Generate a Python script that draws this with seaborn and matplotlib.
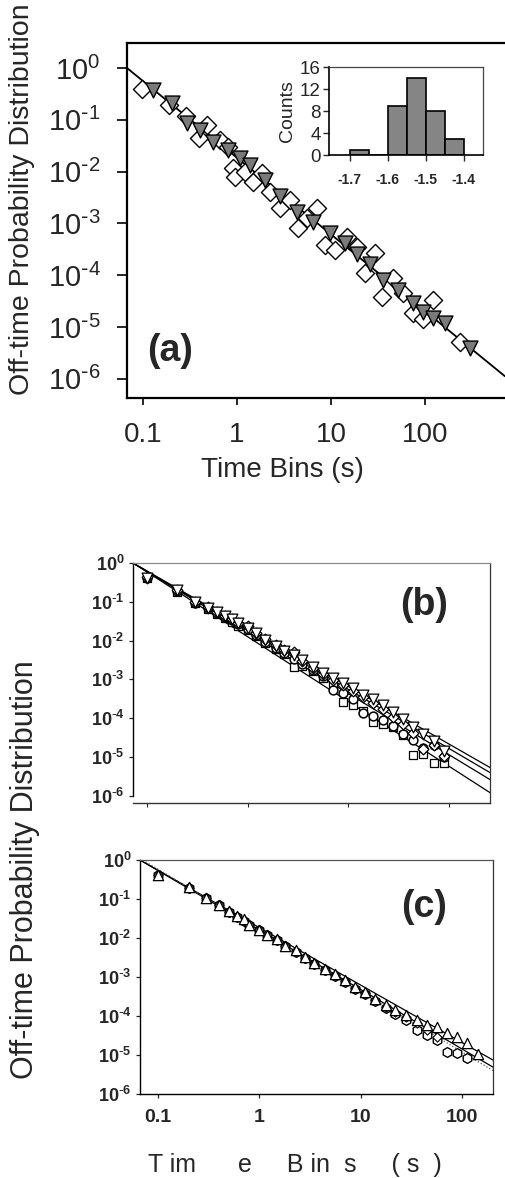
import numpy as np
import matplotlib
matplotlib.use("Agg")
import matplotlib.pyplot as plt
from matplotlib.ticker import NullLocator
import seaborn as sns

sns.set_style("ticks")
plt.rcParams['font.family'] = ['Liberation Sans', 'DejaVu Sans']
plt.rcParams['mathtext.default'] = 'regular'

# ---------------- data ----------------
# panel (a): open diamonds
a_dia_x = [0.098, 0.19, 0.29, 0.48, 0.39, 0.66, 0.80, 0.91, 0.95, 1.22, 1.48, 1.85, 2.25, 2.87,
           3.65, 4.45, 5.5, 7.1, 8.6, 11, 14.8, 19, 23, 29.5, 35, 46, 59, 74, 95, 122, 236]
a_dia_y = [0.39, 0.19, 0.12, 0.079, 0.045, 0.041, 0.030, 0.012, 0.0079, 0.0098, 0.0063, 0.0094,
           0.0041, 0.0020, 0.0028, 0.00081, 0.0013, 0.0020, 0.00038, 0.00031, 0.00055, 0.00035,
           0.00011, 0.00027, 3.8e-5, 8.9e-5, 4.5e-5, 1.9e-5, 1.4e-5, 3.3e-5, 5.1e-6]
# panel (a): grey triangles
a_tri_x = [0.128, 0.204, 0.294, 0.404, 0.556, 0.80, 1.08, 1.37, 1.99, 2.87, 4.35, 6.44, 9.76,
           14.1, 18.9, 26.0, 35.7, 51.6, 74.5, 95, 122, 163, 301]
a_tri_y = [0.376, 0.211, 0.0867, 0.0636, 0.0373, 0.0261, 0.0183, 0.0134, 0.0069, 0.00338,
           0.00166, 0.00106, 0.00065, 0.00042, 0.000257, 0.000164, 8.1e-5, 5.2e-5, 2.9e-5,
           1.95e-5, 1.5e-5, 1.2e-5, 3.9e-6]
a_fit_prefactor = 0.01855
a_fit_exponent = -1.48

# inset histogram of exponents
hist_edges = [-1.70, -1.65, -1.60, -1.55, -1.50, -1.45, -1.40]
hist_counts = [1, 0, 9, 14, 8, 3]

# panel (b)
b_x = [0.1, 0.2, 0.3, 0.4, 0.5, 0.6, 0.7, 0.8, 1.0, 1.2, 1.5, 1.9, 2.3, 2.9, 3.5, 4.5, 5.6,
       7.0, 8.8, 11, 14, 17.5, 22, 28, 35, 44, 55, 70, 88]
b_tri_y = [0.42, 0.20, 0.10, 0.070, 0.054, 0.043, 0.036, 0.028, 0.021, 0.016, 0.0105, 0.0072,
           0.0055, 0.0042, 0.0031, 0.0021, 0.0015, 0.0011, 8.1e-4, 6.0e-4, 4.0e-4, 3.1e-4,
           2.2e-4, 1.45e-4, 9.6e-5, 5.9e-5, 3.9e-5, 2.6e-5, 1.4e-5]
b_sq_y = [0.40, 0.18, 0.092, 0.066, 0.049, 0.039, 0.031, 0.024, 0.019, 0.013, 0.0085, 0.0060,
          0.0045, 0.0021, 0.0022, 0.0016, 0.0011, 7.0e-4, 2.6e-4, 2.2e-4, 1.5e-4, 8.0e-5,
          7.0e-5, 5.9e-5, 3.7e-5, 1.1e-5, 1.2e-5, 7.0e-6, 7.0e-6]
b_circ_y = [0.41, 0.19, 0.095, 0.068, 0.051, 0.040, 0.033, 0.026, 0.020, 0.014, 0.0092, 0.0064,
            0.0047, 0.0034, 0.0025, 0.0017, 0.0012, 5.3e-4, 4.5e-4, 3.2e-4, 1.36e-4, 1.15e-4,
            9.0e-5, 6.3e-5, 4.0e-5, 2.8e-5, 1.7e-5, 2.0e-5, 1.0e-5]
b_dia_y = [0.43, 0.20, 0.098, 0.072, 0.055, 0.044, 0.036, 0.029, 0.024, 0.016, 0.011, 0.0075,
           0.0058, 0.0050, 0.0030, 0.0020, 0.0014, 9.5e-4, 7.0e-4, 5.0e-4, 3.5e-4, 2.5e-4,
           1.7e-4, 1.1e-4, 7.0e-5, 4.2e-5, 1.6e-5, 2.0e-5, 1.07e-5]
b_fit_prefactors = [0.0202, 0.01837, 0.01607, 0.01253]
b_fit_exponents = [-1.487, -1.524, -1.575, -1.67]

# panel (c)
c_x = [0.1, 0.2, 0.3, 0.4, 0.5, 0.6, 0.7, 0.8, 1.0, 1.2, 1.5, 1.8, 2.3, 2.8, 3.5, 4.5, 5.6,
       7.0, 8.8, 11, 14, 18, 22, 28, 36, 45, 57, 71, 90, 112, 144]
c_hex_y = [0.41, 0.19, 0.104, 0.069, 0.046, 0.034, 0.028, 0.021, 0.0158, 0.0117, 0.0087,
           0.0061, 0.0045, 0.0030, 0.0021, 0.00148, 0.00108, 0.00076, 0.00050, 0.00037,
           0.00024, 1.6e-4, 1.1e-4, 8.0e-5, 4.4e-5, 3.2e-5, 2.4e-5, 1.2e-5, 1.1e-5, 8.3e-6]
c_tri_y = [0.42, 0.20, 0.108, 0.071, 0.048, 0.036, 0.030, 0.022, 0.0165, 0.0122, 0.0092,
           0.0064, 0.0048, 0.0033, 0.0023, 0.00160, 0.00118, 0.00083, 0.00056, 0.00042,
           0.00028, 1.9e-4, 1.4e-4, 1.05e-4, 7.9e-5, 5.9e-5, 5.2e-5, 3.7e-5, 2.9e-5, 2.0e-5,
           1.07e-5]
c_dia_y = [0.41, 0.19, 0.106, 0.070, 0.046, 0.0345, 0.029, 0.0215, 0.016, 0.0119, 0.0089,
           0.0062, 0.0046, 0.0031, 0.00215, 0.00151, 0.00112, 0.00079, 0.00052, 0.00039,
           0.00026, 1.7e-4, 1.26e-4, 9.4e-5, 6.6e-5, 4.4e-5, 2.9e-5]
c_fit_prefactors = [0.01845, 0.01602, 0.0159]
c_fit_exponents = [-1.472, -1.524, -1.561]
c_fit_styles = ['-', '-', ':']

y_decades = [0, -1, -2, -3, -4, -5, -6]
x_ticks = [0.1, 1, 10, 100]
x_ticklabels = ['0.1', '1', '10', '100']
ylabel_text = "Off-time Probability Distribution"

# ---------------- figure ----------------
W, H = 505, 1178
fig = plt.figure(figsize=(W / 100, H / 100), dpi=100)


def box(l, t, r, b):
    return [l / W, 1 - b / H, (r - l) / W, (b - t) / H]


def dec_label(e):
    if e < 0:
        return r"$10^{\text{-}%d}$" % (-e)
    return r"$10^{%d}$" % e


def setup_log(ax, xlim, ylim):
    ax.set_xscale('log')
    ax.set_yscale('log')
    ax.set_xlim(*xlim)
    ax.set_ylim(*ylim)
    ax.set_yticks([10.0 ** e for e in y_decades], labels=[dec_label(e) for e in y_decades])
    ax.set_xticks(x_ticks, labels=x_ticklabels)
    ax.xaxis.set_minor_locator(NullLocator())
    ax.yaxis.set_minor_locator(NullLocator())
    ax.set_xlabel('')
    ax.set_ylabel('')


def fit_line(ax, A, b, **kw):
    xl = np.array(ax.get_xlim())
    sns.lineplot(x=xl, y=A * xl ** b, ax=ax, sort=False, estimator=None, **kw)


# ---- panel (a)
axA = fig.add_axes(box(127, 43, 505, 398))
setup_log(axA, (0.0676, 710), (4.26e-7, 3.04))
fit_line(axA, a_fit_prefactor, a_fit_exponent, color='black', linewidth=1.3, zorder=2)
sns.scatterplot(x=a_dia_x, y=a_dia_y, ax=axA, marker='D', s=85, color='white',
                edgecolor='black', linewidth=1.0, zorder=3)
sns.scatterplot(x=a_tri_x, y=a_tri_y, ax=axA, marker='v', s=115, color='#7a7a7a',
                edgecolor='black', linewidth=1.0, zorder=4)
axA.set_xlabel('')
axA.set_ylabel('')
axA.spines['right'].set_visible(False)
for s in ['left', 'top', 'bottom']:
    axA.spines[s].set_linewidth(1.6)
    axA.spines[s].set_color('black')
axA.tick_params(axis='y', direction='out', length=7, width=1.4, pad=12, labelsize=21)
axA.tick_params(axis='x', direction='out', length=5, width=1.4, pad=12, labelsize=20)

fig.text(22 / W, 1 - 199 / H, ylabel_text, rotation=90, ha='center', va='center', fontsize=20.5)
fig.text(282 / W, 1 - 470 / H, "Time Bins (s)", ha='center', va='center', fontsize=20)
fig.text(170 / W, 1 - 351 / H, "(a)", ha='center', va='center', fontsize=27, fontweight='bold')

# ---- inset histogram
axI = fig.add_axes(box(329, 67, 483, 155))
centers = [(hist_edges[i] + hist_edges[i + 1]) / 2 for i in range(len(hist_counts))]
sns.histplot(x=centers, weights=hist_counts, bins=hist_edges, ax=axI, color='#858585',
             edgecolor='black', linewidth=1.2, alpha=1)
axI.set_xlim(-1.755, -1.35)
axI.set_ylim(0, 16)
axI.set_xticks([-1.7, -1.6, -1.5, -1.4], labels=['-1.7', '-1.6', '-1.5', '-1.4'])
axI.set_yticks([0, 4, 8, 12, 16])
for lab in axI.get_xticklabels():
    lab.set_fontweight('bold')
axI.tick_params(axis='x', direction='out', length=4, width=1.0, labelsize=10, pad=9)
axI.tick_params(axis='y', direction='out', length=4, width=1.0, labelsize=13.5, pad=2)
axI.set_xlabel('')
axI.set_ylabel('Counts', fontsize=14, labelpad=3)
for s in ['left', 'bottom']:
    axI.spines[s].set_linewidth(1.2)
    axI.spines[s].set_color('black')
for s in ['top', 'right']:
    axI.spines[s].set_visible(True)
    axI.spines[s].set_linewidth(0.9)
    axI.spines[s].set_color('#444444')

# ---- panel (b)
axB = fig.add_axes(box(133, 563, 490, 803))
setup_log(axB, (0.0726, 254.7), (6.5e-7, 1))
for A, b in zip(b_fit_prefactors, b_fit_exponents):
    fit_line(axB, A, b, color='black', linewidth=0.9, zorder=2)
sns.scatterplot(x=b_x, y=b_sq_y, ax=axB, marker='s', s=40, color='white',
                edgecolor='black', linewidth=0.9, zorder=3)
sns.scatterplot(x=b_x, y=b_circ_y, ax=axB, marker='o', s=40, color='white',
                edgecolor='black', linewidth=1.1, zorder=3)
sns.scatterplot(x=b_x, y=b_dia_y, ax=axB, marker='D', s=30, color='white',
                edgecolor='black', linewidth=0.9, zorder=3)
sns.scatterplot(x=b_x, y=b_tri_y, ax=axB, marker='v', s=60, color='white',
                edgecolor='black', linewidth=0.9, zorder=3)
axB.set_xlabel('')
axB.set_ylabel('')
axB.tick_params(axis='x', labelbottom=False, direction='out', length=3, width=0.8)
axB.tick_params(axis='y', direction='out', length=3, width=0.9, labelsize=13, pad=3)
for lab in axB.get_yticklabels():
    lab.set_fontweight('bold')
axB.spines['left'].set_bounds(1e-6, 1)
axB.spines['left'].set_linewidth(1.0)
axB.spines['left'].set_color('black')
axB.spines['bottom'].set_linewidth(1.0)
axB.spines['bottom'].set_color('#333333')
axB.spines['top'].set_linewidth(0.9)
axB.spines['top'].set_color('#888888')
axB.spines['right'].set_linewidth(0.9)
axB.spines['right'].set_color('#333333')
fig.text(424 / W, 1 - 605 / H, "(b)", ha='center', va='center', fontsize=27, fontweight='bold')

# ---- panel (c)
axC = fig.add_axes(box(140, 860, 493, 1094))
setup_log(axC, (0.0664, 202.8), (1e-6, 1))
for A, b, ls in zip(c_fit_prefactors, c_fit_exponents, c_fit_styles):
    fit_line(axC, A, b, color='black' if ls == '-' else '#555555', linewidth=0.9,
             linestyle=ls, zorder=2)
sns.scatterplot(x=c_x[:len(c_hex_y)], y=c_hex_y, ax=axC, marker='h', s=50, color='white',
                edgecolor='black', linewidth=1.0, zorder=3)
sns.scatterplot(x=c_x[:len(c_dia_y)], y=c_dia_y, ax=axC, marker='D', s=22, color='white',
                edgecolor='black', linewidth=0.8, zorder=3)
sns.scatterplot(x=c_x[:len(c_tri_y)], y=c_tri_y, ax=axC, marker='^', s=55, color='white',
                edgecolor='black', linewidth=0.9, zorder=3)
axC.set_xlabel('')
axC.set_ylabel('')
axC.tick_params(axis='x', direction='out', length=3, width=0.9, labelsize=14, pad=8)
axC.tick_params(axis='y', direction='out', length=3, width=0.9, labelsize=13, pad=3)
for lab in axC.get_yticklabels() + axC.get_xticklabels():
    lab.set_fontweight('bold')
axC.spines['left'].set_linewidth(1.0)
axC.spines['left'].set_color('black')
axC.spines['bottom'].set_linewidth(1.0)
axC.spines['bottom'].set_color('black')
axC.spines['top'].set_linewidth(0.9)
axC.spines['top'].set_color('#555555')
axC.spines['right'].set_linewidth(0.9)
axC.spines['right'].set_color('#333333')
fig.text(424 / W, 1 - 907 / H, "(c)", ha='center', va='center', fontsize=27, fontweight='bold')

fig.text(25 / W, 1 - 870 / H, ylabel_text, rotation=90, ha='center', va='center', fontsize=22)
fig.text(295 / W, 1 - 1165 / H, "T im      e     B in  s     ( s  )", ha='center', va='center',
         fontsize=18)

fig.savefig('out.png', dpi=100)
